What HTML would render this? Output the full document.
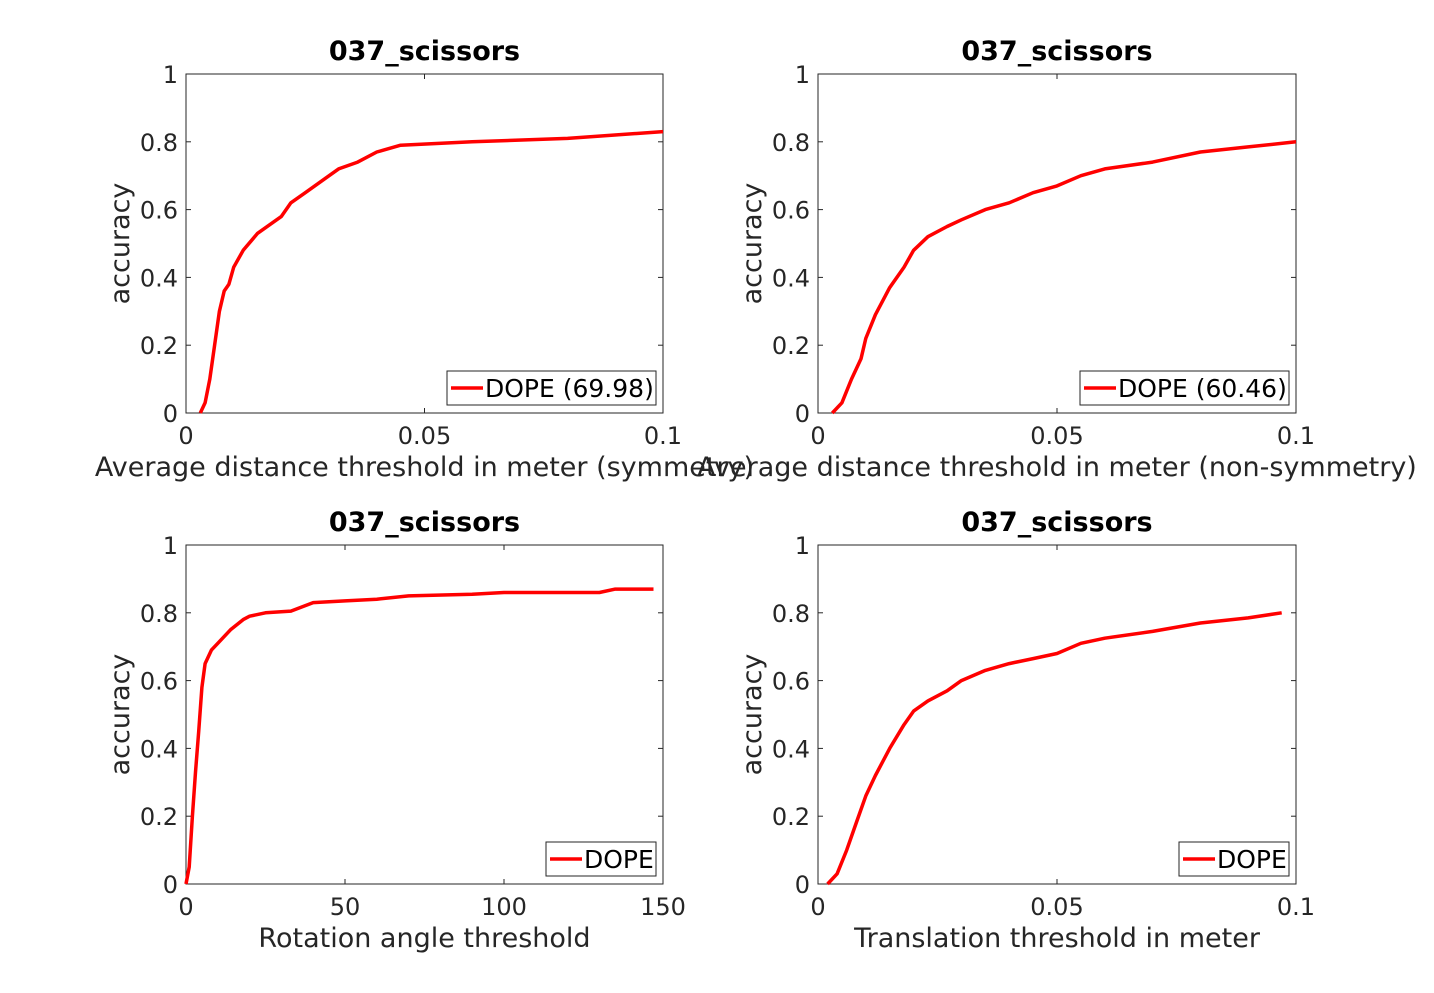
<!DOCTYPE html>
<html><head><meta charset="utf-8">
<style>
body{margin:0;background:#fff;}
svg{display:block;font-family:"DejaVu Sans","Liberation Sans",sans-serif;}
</style></head>
<body>
<svg id="fig" width="1434" height="993" viewBox="0 0 1434 993" xmlns="http://www.w3.org/2000/svg"></svg>
<script>
const p1X=[0.003,0.004,0.005,0.006,0.007,0.008,0.009,0.01,0.012,0.015,0.02,0.022,0.025,0.03,0.032,0.036,0.04,0.045,0.06,0.08,0.1];
const p1Y=[0,0.03,0.1,0.2,0.3,0.36,0.38,0.43,0.48,0.53,0.58,0.62,0.65,0.7,0.72,0.74,0.77,0.79,0.8,0.81,0.83];
const p2X=[0.003,0.005,0.007,0.009,0.01,0.012,0.015,0.018,0.02,0.023,0.027,0.03,0.035,0.04,0.045,0.05,0.055,0.06,0.07,0.08,0.09,0.1];
const p2Y=[0,0.03,0.1,0.16,0.22,0.29,0.37,0.43,0.48,0.52,0.55,0.57,0.6,0.62,0.65,0.67,0.7,0.72,0.74,0.77,0.785,0.8];
const p3X=[0,1,2,3,4,5,6,8,10,14,18,20,25,33,40,50,60,70,90,100,130,135,147];
const p3Y=[0,0.05,0.2,0.33,0.45,0.58,0.65,0.69,0.71,0.75,0.78,0.79,0.8,0.805,0.83,0.835,0.84,0.85,0.855,0.86,0.86,0.87,0.87];
const p4X=[0.002,0.004,0.006,0.008,0.01,0.012,0.015,0.018,0.02,0.023,0.027,0.03,0.035,0.04,0.045,0.05,0.055,0.06,0.07,0.08,0.09,0.097];
const p4Y=[0,0.03,0.1,0.18,0.26,0.32,0.4,0.47,0.51,0.54,0.57,0.6,0.63,0.65,0.665,0.68,0.71,0.725,0.745,0.77,0.785,0.8];
const yTicks=[0,0.2,0.4,0.6,0.8,1];
const yTickLabels=["0","0.2","0.4","0.6","0.8","1"];
const xTicksA=[0,0.05,0.1];
const xTickLabelsA=["0","0.05","0.1"];
const xTicksB=[0,50,100,150];
const xTickLabelsB=["0","50","100","150"];

const NS="http://www.w3.org/2000/svg";
const svg=document.getElementById('fig');
function el(tag,attrs,parent,text){const e=document.createElementNS(NS,tag);for(const k in attrs)e.setAttribute(k,attrs[k]);if(text!==undefined)e.textContent=text;(parent||svg).appendChild(e);return e;}

const panels=[
 {l:186,t:74,r:663,b:413,xs:p1X,ys:p1Y,xmax:0.1,xt:xTicksA,xl:xTickLabelsA,xlabel:"Average distance threshold in meter (symmetry)",leg:"DOPE (69.98)",lw:209,n:"top-left"},
 {l:818,t:74,r:1296,b:413,xs:p2X,ys:p2Y,xmax:0.1,xt:xTicksA,xl:xTickLabelsA,xlabel:"Average distance threshold in meter (non-symmetry)",leg:"DOPE (60.46)",lw:209,n:"top-right"},
 {l:186,t:545,r:663,b:884,xs:p3X,ys:p3Y,xmax:150,xt:xTicksB,xl:xTickLabelsB,xlabel:"Rotation angle threshold",leg:"DOPE",lw:110,n:"bottom-left"},
 {l:818,t:545,r:1296,b:884,xs:p4X,ys:p4Y,xmax:0.1,xt:xTicksA,xl:xTickLabelsA,xlabel:"Translation threshold in meter",leg:"DOPE",lw:110,n:"bottom-right"}
];
panels.forEach(p=>{
 const g=el('g',{});
 
 
 const sx=v=>p.l+(v/p.xmax)*(p.r-p.l);
 const sy=v=>p.b-v*(p.b-p.t);
 const box=el('rect',{x:p.l,y:p.t,width:p.r-p.l,height:p.b-p.t,fill:'#fff',stroke:'#262626','stroke-width':1},g);
 
 
 yTicks.forEach((v,i)=>{
  const y=sy(v);
  el('line',{x1:p.l,x2:p.l+5,y1:y,y2:y,stroke:'#262626'},g);
  el('line',{x1:p.r,x2:p.r-5,y1:y,y2:y,stroke:'#262626'},g);
  const t=el('text',{x:p.l-8,y:y+9,'text-anchor':'end','font-size':24,fill:'#262626'},g,yTickLabels[i]);
  
  
 });
 p.xt.forEach((v,i)=>{
  const x=sx(v);
  el('line',{x1:x,x2:x,y1:p.b,y2:p.b-5,stroke:'#262626'},g);
  el('line',{x1:x,x2:x,y1:p.t,y2:p.t+5,stroke:'#262626'},g);
  const t=el('text',{x:x,y:p.b+31,'text-anchor':'middle','font-size':24,fill:'#262626'},g,p.xl[i]);
  
  
 });
 const title=el('text',{x:(p.l+p.r)/2,y:p.t-14,'text-anchor':'middle','font-size':27,'font-weight':'bold',fill:'#000'},g,'037_scissors');
 
 
 const xl=el('text',{x:(p.l+p.r)/2,y:p.b+63,'text-anchor':'middle','font-size':27,fill:'#262626'},g,p.xlabel);
 
 
 const cy=(p.t+p.b)/2, cx=p.l-57;
 const yl=el('text',{x:cx,y:cy,'text-anchor':'middle','font-size':27,fill:'#262626',transform:`rotate(-90 ${cx} ${cy})`},g,'accuracy');
 
 
 const pts=p.xs.map((x,i)=>sx(x).toFixed(1)+','+sy(p.ys[i]).toFixed(1)).join(' ');
 const line=el('polyline',{points:pts,fill:'none',stroke:'#ff0000','stroke-width':3.5,'stroke-linejoin':'round'},g);
 
 
 const lx=p.r-7-p.lw, ly=p.b-42;
 const lg=el('g',{},g);
 
 
 el('rect',{x:lx,y:ly,width:p.lw,height:34,fill:'#fff',stroke:'#262626'},lg);
 el('line',{x1:lx+4,x2:lx+36,y1:ly+17,y2:ly+17,stroke:'#ff0000','stroke-width':3.5},lg);
 const lt=el('text',{x:lx+38,y:ly+26,'font-size':25,fill:'#000'},lg,p.leg);
 
 
});
</script>
</body></html>
